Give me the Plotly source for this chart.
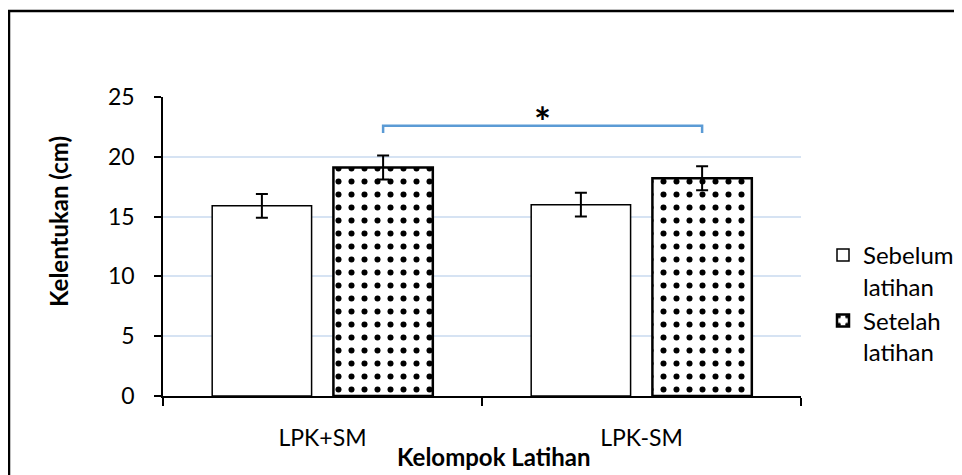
import plotly.graph_objects as go

categories = ["LPK+SM", "LPK-SM"]
sebelum = [15.9, 16.0]
sebelum_err = [1.0, 1.0]
setelah = [19.1, 18.2]
setelah_err = [1.0, 1.0]
y_ticks = [0, 5, 10, 15, 20, 25]
sig_y = 22.6
sig_drop = 22.0

# page body has an 8px margin; figure is sized to fit the 962x475 window
OFF = 8
W, H = 962 - OFF, 475 - OFF
PL, PR, PT, PB = 163, 801, 97, 396          # plot area in window pixels
L, T = PL - OFF, PT - OFF
R, B = W - (PR - OFF), H - (PB - OFF)
pw, ph = PR - PL, PB - PT

def px_x(p):
    return (p - PL) / pw

def px_y(p):
    return (PB - p) / ph

FONT = "Lato"
TICK_SIZE = 23

fig = go.Figure()
fig.add_trace(go.Bar(
    x=categories, y=sebelum, name="Sebelum<br>latihan",
    marker=dict(color="white", line=dict(color="black", width=1.5)),
    error_y=dict(type="data", array=sebelum_err, color="black", thickness=2, width=6),
))
fig.add_trace(go.Bar(
    x=categories, y=setelah, name="Setelah<br>latihan",
    marker=dict(color="white", line=dict(color="black", width=2.5),
                pattern=dict(shape=".", fgcolor="black", bgcolor="white", size=13, solidity=0.17, fillmode="replace")),
    error_y=dict(type="data", array=setelah_err, color="black", thickness=2, width=6),
))

# significance bracket between the two "Setelah" bars
off = 0.19
fig.add_shape(type="path", xref="x", yref="y",
              path=f"M {0+off},{sig_drop} L {0+off},{sig_y} L {1+off},{sig_y} L {1+off},{sig_drop}",
              line=dict(color="#5B9BD5", width=2.5))
fig.add_annotation(x=0.5 + off, y=sig_y, xref="x", yref="y", text="<b>*</b>", showarrow=False,
                   yanchor="bottom", yshift=-22, font=dict(size=40, color="black", family=FONT))

# axis titles
fig.add_annotation(x=px_x(58), y=px_y(222), xref="paper", yref="paper", text="<b>Kelentukan (cm)</b>",
                   textangle=-90, showarrow=False, xanchor="center", yanchor="middle",
                   font=dict(size=24, color="black", family=FONT))
fig.add_annotation(x=px_x(494), y=px_y(456), xref="paper", yref="paper", text="<b>Kelompok Latihan</b>",
                   showarrow=False, xanchor="center", yanchor="middle",
                   font=dict(size=24, color="black", family=FONT))

# outer chart border
fig.add_shape(type="rect", xref="paper", yref="paper",
              x0=px_x(9), x1=px_x(980), y0=px_y(11), y1=px_y(495),
              line=dict(color="black", width=2.5), fillcolor="rgba(0,0,0,0)", layer="below")

fig.update_layout(
    width=W, height=H,
    margin=dict(l=L, r=R, t=T, b=B, autoexpand=False),
    paper_bgcolor="white", plot_bgcolor="white",
    barmode="group", bargap=0.24, bargroupgap=0.18,
    font=dict(family=FONT, size=TICK_SIZE, color="black"),
    showlegend=True,
    legend=dict(x=px_x(823), y=px_y(233), xanchor="left", yanchor="top",
                font=dict(size=24, family=FONT), valign="top", tracegroupgap=0,
                itemwidth=30, bgcolor="rgba(0,0,0,0)"),
    xaxis=dict(showline=True, linecolor="black", linewidth=1.5, ticks="outside", tickson="boundaries",
               ticklen=8, tickcolor="black", tickwidth=1.5, ticklabelstandoff=21,
               tickfont=dict(size=TICK_SIZE, family=FONT), showgrid=False),
    yaxis=dict(range=[0, 25], tickvals=y_ticks, showline=True, linecolor="black", linewidth=1.5,
               ticks="outside", ticklen=7, tickcolor="black", tickwidth=1.5, ticklabelstandoff=15,
               showgrid=True, gridcolor="#D6E3F3", gridwidth=1.5, zeroline=False,
               tickfont=dict(size=TICK_SIZE, family=FONT)),
)

fig.write_html("out.html")
